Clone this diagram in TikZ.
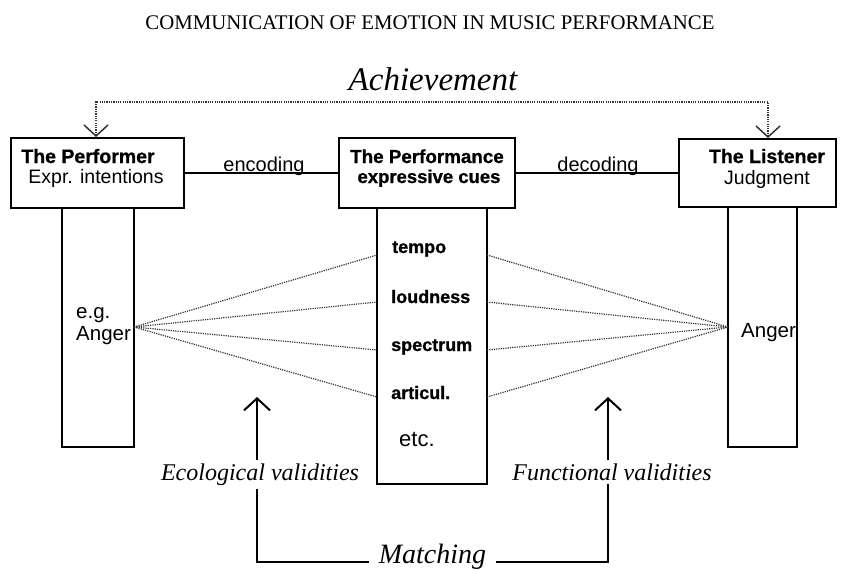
\documentclass[tikz,border=0pt]{standalone}
\usepackage{fontspec}
\setmainfont{Liberation Serif}
\setsansfont{Liberation Sans}
\newfontfamily\heavysans[FakeBold=0.8]{Liberation Sans}
\usetikzlibrary{arrows.meta}
\tikzset{
  boxframe/.style={draw, line width=2pt, inner sep=0pt},
  headtxt/.style={font=\heavysans\bfseries\fontsize{19.5}{22}\selectfont, anchor=base, inner sep=1pt},
  subtxt/.style={font=\sffamily\fontsize{19.5}{22}\selectfont, anchor=base, inner sep=1pt},
  cuetxt/.style={font=\heavysans\bfseries\fontsize{18}{22}\selectfont, anchor=base west, inner sep=0pt},
  plaintxt/.style={font=\sffamily\fontsize{20.5}{24}\selectfont, anchor=base west, inner sep=0pt},
  itxt/.style={font=\itshape\fontsize{24}{28}\selectfont, anchor=base},
  solidline/.style={line width=2pt},
  dotline/.style={line width=1.2pt, black!80, dash pattern=on 1.2pt off 1.1pt},
  barb/.style={-{Straight Barb[length=12pt, width=26pt, line width=2pt]}},
}
\begin{document}
\begin{tikzpicture}[x=1pt, y=-1pt]
\useasboundingbox (0,0) rectangle (842,573);

% title
\node[font=\fontsize{20.8}{24}\selectfont, anchor=base, inner sep=0pt] (title) at (430,29) {COMMUNICATION OF EMOTION IN MUSIC PERFORMANCE};
\node[font=\itshape\fontsize{33}{36}\selectfont, anchor=base, inner sep=0pt] (achv) at (433,90) {Achievement};

% boxes
\node[boxframe, minimum width=173pt, minimum height=70pt] (pbox) at (97.5,173) {};
\node[boxframe, minimum width=176pt, minimum height=70pt] (mbox) at (427,173) {};
\node[boxframe, minimum width=157pt, minimum height=68pt] (lbox) at (757.5,173) {};

% columns
\node[boxframe, minimum width=72pt, minimum height=239pt] (pcol) at (98,327.5) {};
\node[boxframe, minimum width=110pt, minimum height=276pt] (mcol) at (432,346) {};
\node[boxframe, minimum width=69pt, minimum height=240pt] (lcol) at (762.5,327) {};

% box texts
\node[headtxt] (ph) at (88,163) {The Performer};
\node[subtxt] (ps) at (96,183) {Expr. intentions};
\node[headtxt, font=\heavysans\bfseries\fontsize{18.8}{22}\selectfont] (mh) at (427,163) {The Performance};
\node[headtxt, font=\heavysans\bfseries\fontsize{18.5}{22}\selectfont] (ms) at (429,183) {expressive cues};
\node[headtxt] (lh) at (767,163) {The Listener};
\node[subtxt] (ls) at (767,184) {Judgment};

% encoding / decoding
\draw[solidline] (pbox.east) -- (mbox.west);
\draw[solidline] (mbox.east) -- (lbox.west);
\node[subtxt, font=\sffamily\fontsize{20}{22}\selectfont] (enc) at (264,171) {encoding};
\node[subtxt, font=\sffamily\fontsize{20}{22}\selectfont] (dec) at (598,171) {decoding};

% column texts
\node[plaintxt] (eg) at (76,318) {e.g.};
\node[plaintxt] (angl) at (76,340) {Anger};
\node[plaintxt] (angr) at (741,337) {Anger};

\node[cuetxt] (tempo) at (392,253) {tempo};
\node[cuetxt] (loud) at (391,303) {loudness};
\node[cuetxt] (spec) at (391,351) {spectrum};
\node[cuetxt] (artic) at (391,399) {articul.};
\node[plaintxt, font=\sffamily\fontsize{22}{26}\selectfont] (etc) at (399,446) {etc.};

% lens lines
\coordinate (CL) at (134,327);
\coordinate (CR) at (728,327);
\foreach \n/\y in {1/255,2/302,3/350,4/397}{
  \coordinate (cl\n) at (377,\y);
  \coordinate (cr\n) at (487,\y);
  \draw[dotline] (CL) -- (cl\n);
  \draw[dotline] (cr\n) -- (CR);
}

% achievement arrow
\coordinate (a1) at (96,102);
\coordinate (a2) at (768,102);
\draw[dotline, {Straight Barb[length=11pt, width=24pt, line width=1.5pt]}-{Straight Barb[length=11pt, width=24pt, line width=1.5pt]}]
  (pbox.north -| a1) -- (a1) -- (a2) -- (lbox.north -| a2);

% validities
\node[itxt] (eco) at (260,480) {Ecological validities};
\node[itxt] (fun) at (612,480) {Functional validities};
\node[font=\itshape\fontsize{28}{32}\selectfont, anchor=base, inner ysep=3pt, inner xsep=10pt] (match) at (432.5,563) {Matching};

\coordinate (et) at (257,397);
\coordinate (ft) at (608,397);
\draw[solidline, barb] (eco.north -| et) -- (et);
\draw[solidline, barb] (fun.north -| ft) -- (ft);

\coordinate (m1) at (257,562);
\coordinate (m2) at (608,562);
\draw[solidline] (eco.south -| m1) -- (m1) -- (match.west |- m1);
\draw[solidline] (match.east |- m2) -- (m2) -- (fun.south -| m2);
\end{tikzpicture}
\end{document}
